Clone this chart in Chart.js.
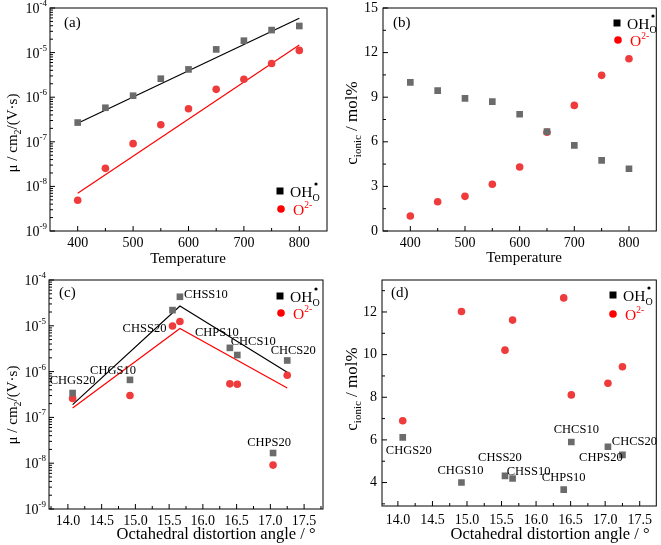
<!DOCTYPE html>
<html>
<head>
<meta charset="utf-8">
<script src="https://cdn.jsdelivr.net/npm/chart.js@4.4.1/dist/chart.umd.min.js"></script>
<style>
  body { margin: 0; background: #fff; }
  #wrap { position: relative; width: 661px; height: 545px; background: #fff; }
  #wrap canvas { position: absolute; left: 0; top: 0; }
</style>
</head>
<body>
<div id="wrap">
  <canvas id="chartA" width="661" height="545"></canvas>
  <canvas id="chartB" width="661" height="545"></canvas>
  <canvas id="chartC" width="661" height="545"></canvas>
  <canvas id="chartD" width="661" height="545"></canvas>
</div>
<script>
// ---- data: panels (a) and (b), against temperature ----
const temperature = [400, 450, 500, 550, 600, 650, 700, 750, 800];
const ohMobility = [2.7e-7, 5.8e-7, 1.08e-6, 2.6e-6, 4.2e-6, 1.18e-5, 1.85e-5, 3.2e-5, 3.95e-5];
const o2Mobility = [4.9e-9, 2.54e-8, 9.1e-8, 2.42e-7, 5.5e-7, 1.5e-6, 2.52e-6, 5.7e-6, 1.12e-5];
const fitTemp = [400, 800];
const ohFit = [2.6e-7, 5.9e-5];
const o2Fit = [7.0e-9, 1.48e-5];
const ohConc = [10.0, 9.44, 8.92, 8.7, 7.85, 6.68, 5.76, 4.75, 4.19];
const o2Conc = [1.01, 1.97, 2.33, 3.14, 4.3, 6.64, 8.45, 10.47, 11.59];

// ---- data: panels (c) and (d), against octahedral distortion ----
const samples = ['CHGS20', 'CHGS10', 'CHSS20', 'CHSS10', 'CHPS10', 'CHCS10', 'CHPS20', 'CHCS20'];
const distortion = [14.07, 14.92, 15.55, 15.66, 16.40, 16.51, 17.04, 17.25];
const ohMobilityS = [3.4e-7, 6.6e-7, 2.2e-5, 4.3e-5, 3.3e-6, 2.3e-6, 1.67e-8, 1.75e-6];
const o2MobilityS = [2.6e-7, 3.0e-7, 9.9e-6, 1.24e-5, 5.4e-7, 5.3e-7, 9.1e-9, 8.3e-7];
const trendAngle = [14.07, 15.66, 17.25];
const ohTrend = [1.9e-7, 2.7e-5, 9.7e-7];
const o2Trend = [1.6e-7, 8.7e-6, 4.4e-7];
const ohConcS = [6.12, 4.0, 4.31, 4.19, 3.67, 5.9, 5.68, 5.3];
const o2ConcS = [6.9, 12.02, 10.21, 11.62, 12.66, 8.11, 8.66, 9.43];

// ---- tick labels ----
const logTicks = [1e-9, 1e-8, 1e-7, 1e-6, 1e-5, 1e-4];
const tempTicks = [400, 500, 600, 700, 800];
const tempMinor = [450, 550, 650, 750];
const concTicks = [0, 3, 6, 9, 12, 15];
const concMinor = [1.5, 4.5, 7.5, 10.5, 13.5];
const angleTicks = [14.0, 14.5, 15.0, 15.5, 16.0, 16.5, 17.0, 17.5];
const angleMinor = [13.75, 14.25, 14.75, 15.25, 15.75, 16.25, 16.75, 17.25, 17.75];
const concTicksS = [4, 6, 8, 10, 12];
const concMinorS = [3, 5, 7, 9, 11, 13];

const W = 661, H = 545;
const SERIF = '"Liberation Serif", "DejaVu Serif", "Times New Roman", serif';
const GREY = '#6b6b6b';
const RED = '#ef3b3b';

function pts(xs, ys) {
  return xs.map((x, i) => ({ x: x, y: ys[i] }));
}

function richWidth(ctx, parts) {
  let w = 0;
  parts.forEach(p => { ctx.font = p.size + 'px ' + SERIF; w += ctx.measureText(p.t).width; });
  return w;
}

// draws a run of text pieces (sub/superscripts) starting from baseline y
function drawRich(ctx, parts, x, y, align) {
  const w = richWidth(ctx, parts);
  let cx = align === 'center' ? x - w / 2 : align === 'right' ? x - w : x;
  ctx.textAlign = 'left';
  ctx.textBaseline = 'alphabetic';
  const pos = [];
  parts.forEach(p => {
    ctx.font = p.size + 'px ' + SERIF;
    ctx.fillStyle = p.color || '#000';
    ctx.fillText(p.t, cx, y + (p.dy || 0));
    const pw = ctx.measureText(p.t).width;
    pos.push([cx, pw]);
    cx += pw;
  });
  return pos;
}

const muTitle = [{ t: '\u03bc / cm', size: 15 }, { t: '2', size: 10, dy: 4 }, { t: '/(V\u00b7s)', size: 15 }];
const concTitle = [{ t: 'c', size: 17 }, { t: 'ionic', size: 11, dy: 4 }, { t: ' / mol%', size: 17 }];

const framePlugin = {
  id: 'frame',
  afterDraw(chart, args, o) {
    const ctx = chart.ctx, a = chart.chartArea;
    const xs = chart.scales.x, ys = chart.scales.y;
    ctx.save();
    ctx.strokeStyle = '#000';
    ctx.lineWidth = 1;
    ctx.strokeRect(a.left, a.top, a.right - a.left, a.bottom - a.top);

    // inward ticks on bottom and left
    ctx.beginPath();
    o.xMajor.forEach(v => { const p = xs.getPixelForValue(v); ctx.moveTo(p, a.bottom); ctx.lineTo(p, a.bottom - 5); });
    o.xMinor.forEach(v => {
      const p = xs.getPixelForValue(v);
      if (p > a.left + 1 && p < a.right - 1) { ctx.moveTo(p, a.bottom); ctx.lineTo(p, a.bottom - 3); }
    });
    const yMinor = [];
    if (o.yLog) {
      o.yMajor.forEach(v => { for (let k = 2; k <= 9; k++) if (v * k < ys.max) yMinor.push(v * k); });
    } else {
      o.yMinor.forEach(v => yMinor.push(v));
    }
    o.yMajor.forEach(v => { const p = ys.getPixelForValue(v); ctx.moveTo(a.left, p); ctx.lineTo(a.left + 5, p); });
    yMinor.forEach(v => {
      const p = ys.getPixelForValue(v);
      if (p > a.top + 1 && p < a.bottom - 1) { ctx.moveTo(a.left, p); ctx.lineTo(a.left + 3, p); }
    });
    ctx.stroke();

    // tick labels
    ctx.fillStyle = '#000';
    ctx.font = '14px ' + SERIF;
    ctx.textAlign = 'center';
    ctx.textBaseline = 'middle';
    o.xMajor.forEach(v => {
      ctx.fillText(o.xFmt(v), xs.getPixelForValue(v), o.xLabelY);
    });
    o.yMajor.forEach(v => {
      const p = ys.getPixelForValue(v);
      if (o.yLog) {
        const e = Math.round(Math.log10(v));
        drawRich(ctx, [{ t: '10', size: 14 }, { t: String(e), size: 9, dy: -7 }], a.left - 3, p + 5, 'right');
      } else {
        ctx.font = '14px ' + SERIF;
        ctx.textAlign = 'right';
        ctx.textBaseline = 'middle';
        ctx.fillText(String(v), a.left - 5, p);
      }
    });

    // axis titles
    ctx.font = o.xTitleSize + 'px ' + SERIF;
    ctx.textAlign = 'center';
    ctx.textBaseline = 'middle';
    ctx.fillStyle = '#000';
    ctx.fillText(o.xTitle, o.xTitlePos[0], o.xTitlePos[1]);
    ctx.save();
    ctx.translate(o.yTitlePos[0], o.yTitlePos[1]);
    ctx.rotate(-Math.PI / 2);
    drawRich(ctx, o.yTitle, 0, 5, 'center');
    ctx.restore();

    // panel letter
    ctx.font = '15px ' + SERIF;
    ctx.textAlign = 'left';
    ctx.textBaseline = 'middle';
    ctx.fillStyle = '#000';
    ctx.fillText(o.letter, o.letterPos[0], o.letterPos[1]);

    // legend
    const L = o.legend;
    ctx.fillStyle = '#000';
    ctx.fillRect(L.sq[0] - 3.5, L.sq[1] - 3.5, 7, 7);
    const oh = drawRich(ctx, [{ t: 'OH', size: 15.5 }, { t: 'O', size: 10, dy: 4 }], L.sq[0] + 10, L.sq[1] + 5.5, 'left');
    ctx.beginPath();
    ctx.arc(oh[1][0] + oh[1][1] / 2, L.sq[1] - 7, 1.6, 0, Math.PI * 2);
    ctx.fillStyle = '#000';
    ctx.fill();
    ctx.beginPath();
    ctx.arc(L.ci[0], L.ci[1], 3.8, 0, Math.PI * 2);
    ctx.fillStyle = '#ff0000';
    ctx.fill();
    drawRich(ctx, [{ t: 'O', size: 15.5, color: '#ff0000' }, { t: '2-', size: 9.5, dy: -7, color: '#ff0000' }], L.ci[0] + 12, L.ci[1] + 5.5, 'left');

    // sample names next to the OH points
    if (o.names) {
      ctx.font = '12.5px ' + SERIF;
      ctx.textAlign = 'center';
      ctx.textBaseline = 'middle';
      ctx.fillStyle = '#000';
      samples.forEach((s, i) => {
        const px = xs.getPixelForValue(distortion[i]);
        const py = ys.getPixelForValue(o.names.y[i]);
        ctx.fillText(s, px + o.names.off[i][0], py + o.names.off[i][1]);
      });
    }
    ctx.restore();
  }
};

function makeChart(id, area, xScale, yScale, datasets, frame) {
  return new Chart(document.getElementById(id), {
    type: 'scatter',
    data: { datasets: datasets },
    options: {
      responsive: false,
      animation: false,
      devicePixelRatio: 1,
      layout: { padding: { left: area[0], top: area[1], right: W - area[2], bottom: H - area[3] } },
      scales: {
        x: Object.assign({ type: 'linear', display: false }, xScale),
        y: Object.assign({ type: 'linear', display: false }, yScale)
      },
      plugins: { legend: { display: false }, tooltip: { enabled: false }, frame: frame }
    },
    plugins: [framePlugin]
  });
}

function squares(data) {
  return { data: data, pointStyle: 'rect', pointRadius: 4.7, backgroundColor: GREY, borderWidth: 0 };
}
function circles(data) {
  return { data: data, pointStyle: 'circle', pointRadius: 3.8, backgroundColor: RED, borderWidth: 0 };
}
function line(data, color) {
  return { data: data, showLine: true, pointRadius: 0, borderColor: color, borderWidth: 1.2, fill: false };
}

const fmt0 = v => String(v);
const fmt1 = v => v.toFixed(1);

// (a)
makeChart('chartA', [50, 8, 327, 231],
  { min: 350, max: 850 },
  { type: 'logarithmic', min: 1e-9, max: 1e-4 },
  [squares(pts(temperature, ohMobility)), circles(pts(temperature, o2Mobility)),
   line(pts(fitTemp, ohFit), '#000'), line(pts(fitTemp, o2Fit), '#ff0000')],
  { xMajor: tempTicks, xMinor: tempMinor, yMajor: logTicks, yLog: true, xFmt: fmt0, xLabelY: 243,
    xTitle: 'Temperature', xTitleSize: 15, xTitlePos: [188, 259], yTitle: muTitle, yTitlePos: [12, 133],
    letter: '(a)', letterPos: [64, 23], legend: { sq: [280, 191], ci: [281, 209] } });

// (b)
makeChart('chartB', [383, 8, 659, 231],
  { min: 350, max: 850 },
  { min: 0, max: 15 },
  [squares(pts(temperature, ohConc)), circles(pts(temperature, o2Conc))],
  { xMajor: tempTicks, xMinor: tempMinor, yMajor: concTicks, yMinor: concMinor, xFmt: fmt0, xLabelY: 243,
    xTitle: 'Temperature', xTitleSize: 15, xTitlePos: [524, 258], yTitle: concTitle, yTitlePos: [352, 123],
    letter: '(b)', letterPos: [393, 23], legend: { sq: [617, 23], ci: [618, 40] } });

// (c)
makeChart('chartC', [49, 280, 323, 509],
  { min: 13.72, max: 17.78 },
  { type: 'logarithmic', min: 1e-9, max: 1e-4 },
  [squares(pts(distortion, ohMobilityS)), circles(pts(distortion, o2MobilityS)),
   line(pts(trendAngle, ohTrend), '#000'), line(pts(trendAngle, o2Trend), '#ff0000')],
  { xMajor: angleTicks, xMinor: angleMinor, yMajor: logTicks, yLog: true, xFmt: fmt1, xLabelY: 521,
    xTitle: 'Octahedral distortion angle / \u00b0', xTitleSize: 16.5, xTitlePos: [216, 535],
    yTitle: muTitle, yTitlePos: [12, 405],
    letter: '(c)', letterPos: [59, 293], legend: { sq: [280, 296], ci: [281, 313] },
    names: { y: ohMobilityS, off: [[0, -12], [-17, -9], [-28, 19], [26, -2], [-13, -15], [16, -13], [-4, -10], [6, -10]] } });

// (d)
makeChart('chartD', [382, 280, 659, 506],
  { min: 13.77, max: 17.74 },
  { min: 2.9, max: 13.5 },
  [squares(pts(distortion, ohConcS)), circles(pts(distortion, o2ConcS))],
  { xMajor: angleTicks, xMinor: angleMinor, yMajor: concTicksS, yMinor: concMinorS, xFmt: fmt1, xLabelY: 520,
    xTitle: 'Octahedral distortion angle / \u00b0', xTitleSize: 16.5, xTitlePos: [550, 535],
    yTitle: concTitle, yTitlePos: [352, 389],
    letter: '(d)', letterPos: [391, 293], legend: { sq: [613, 295], ci: [613, 314] },
    names: { y: ohConcS, off: [[6, 13], [-1, -12], [-5, -18], [16, -7], [0, -12], [5, -12], [-7, 11], [12, -13]] } });
</script>
</body>
</html>
